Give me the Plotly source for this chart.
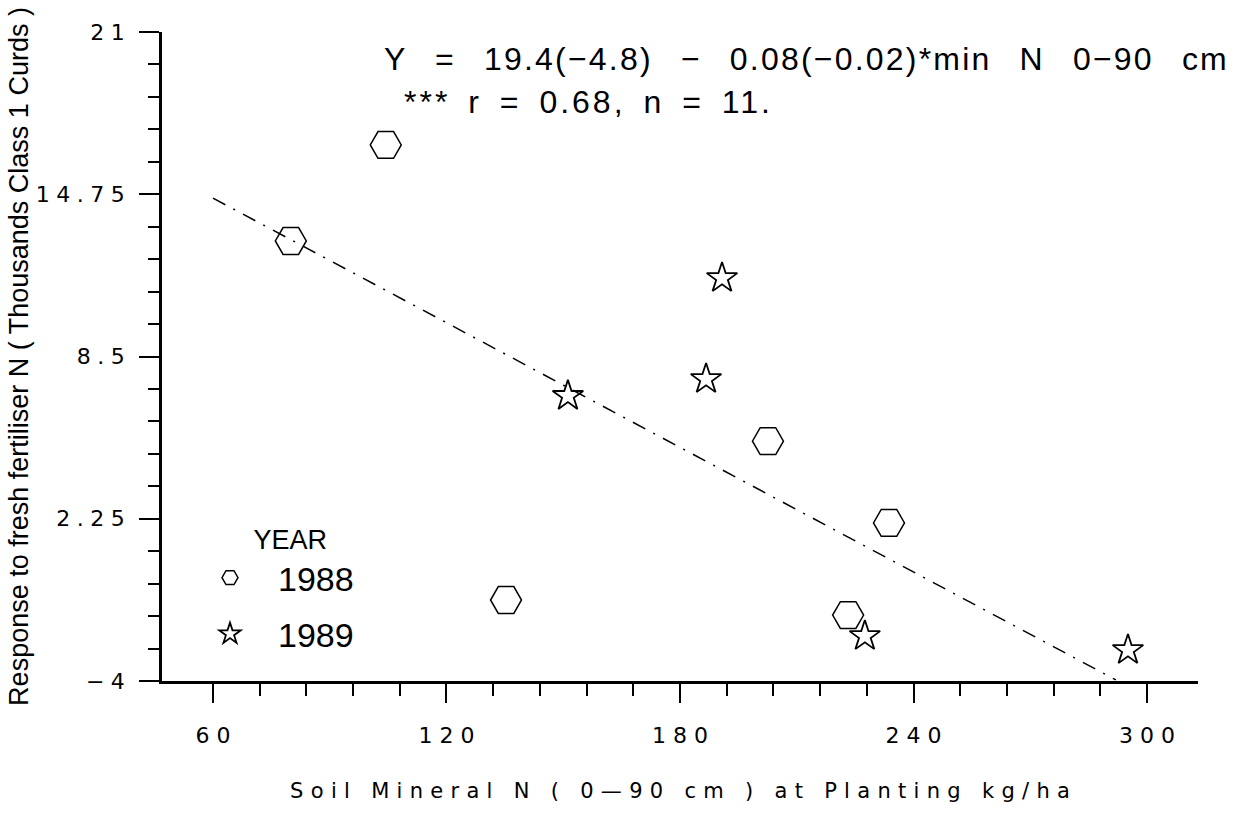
import plotly.graph_objects as go

# Soil mineral N at planting (kg/ha) and response to fresh fertiliser N
# (thousands of Class 1 curds), by year
SOIL_N_1988 = [80.0, 104.4, 135.3, 202.6, 223.2, 233.7]
RESPONSE_1988 = [12.95, 16.65, -0.88, 5.24, -1.46, 2.09]

SOIL_N_1989 = [151.2, 186.7, 190.8, 227.5, 295.1]
RESPONSE_1989 = [6.98, 7.63, 11.52, -2.27, -2.81]

# Fitted regression (standard errors in brackets)
INTERCEPT = 19.4
INTERCEPT_SE = 4.8
SLOPE = -0.08
SLOPE_SE = 0.02
R_VALUE = 0.68
N_OBS = 11
FIT_X = [60, 292]

X_TICKS = [60, 120, 180, 240, 300]
X_TICK_LABELS = ["60", "120", "180", "240", "300"]
Y_TICKS = [-4, 2.25, 8.5, 14.75, 21]
Y_TICK_LABELS = ["\u22124", "2.25", "8.5", "14.75", "21"]

X_TITLE = "Soil Mineral N ( 0\u201490 cm ) at Planting kg/ha"
Y_TITLE = "Response to fresh fertiliser N ( Thousands Class 1 Curds )"
LEGEND_TITLE = "YEAR"


def tracked(text, px):
    """Widen the glyph spacing of a label, without trailing space after the last glyph."""
    if len(text) < 2:
        return text
    return f'<span style="letter-spacing:{px}px">{text[:-1]}</span>{text[-1]}'


PLOT_FONT = "DejaVu Sans, Verdana, sans-serif"
TEXT_FONT = "Liberation Sans, Arial, Helvetica, sans-serif"

fig = go.Figure()

fit_y = [INTERCEPT + SLOPE * x for x in FIT_X]
fig.add_trace(go.Scatter(
    x=FIT_X, y=fit_y, mode="lines", showlegend=False, hoverinfo="skip",
    line=dict(color="black", width=1.5, dash="14px,9px,2px,9px"),
))

fig.add_trace(go.Scatter(
    x=SOIL_N_1988, y=RESPONSE_1988, mode="markers", name="1988", legendgroup="1988",
    marker=dict(symbol="hexagon2-open", size=31, color="black",
                line=dict(width=1.5, color="black")),
))
fig.add_trace(go.Scatter(
    x=SOIL_N_1989, y=RESPONSE_1989, mode="markers", name="1989", legendgroup="1989",
    marker=dict(symbol="star-open", size=23, color="black",
                line=dict(width=1.8, color="black")),
))

x_minor = [v for v in range(72, 300, 12) if v % 60 != 0]

# legend heading sits a little right of the key column
legend_heading = f'<span style="letter-spacing:32px">\u00a0</span>{LEGEND_TITLE}'

fig.update_layout(
    width=1235, height=815,
    margin=dict(l=162, r=37, t=32, b=134),
    paper_bgcolor="white", plot_bgcolor="white",
    font=dict(family=TEXT_FONT, color="black"),
    showlegend=True,
    xaxis=dict(
        range=[46.9, 313.1], showgrid=False, zeroline=False,
        showline=True, linecolor="black", linewidth=3,
        ticks="outside", ticklen=19, tickwidth=1.5, tickcolor="black",
        tickmode="array", tickvals=X_TICKS,
        ticktext=[tracked(t, 7) for t in X_TICK_LABELS],
        tickfont=dict(family=PLOT_FONT, size=22, color="black"),
        ticklabelstandoff=14,
        minor=dict(tickmode="array", tickvals=x_minor, ticks="outside",
                   ticklen=12, tickwidth=1.5, tickcolor="black", showgrid=False),
        title=dict(text=tracked(X_TITLE, 7.3),
                   font=dict(family=PLOT_FONT, size=21, color="black"),
                   standoff=36),
    ),
    yaxis=dict(
        range=[-4, 21], showgrid=False, zeroline=False,
        showline=True, linecolor="black", linewidth=2.5,
        ticks="outside", ticklen=20, tickwidth=1.5, tickcolor="black",
        tickmode="array", tickvals=Y_TICKS,
        ticktext=[tracked(t, 6.5) for t in Y_TICK_LABELS],
        tickfont=dict(family=PLOT_FONT, size=22, color="black"),
        ticklabelstandoff=10,
        minor=dict(dtick=1.25, tick0=-4, ticks="outside", ticklen=11,
                   tickwidth=1.5, tickcolor="black", showgrid=False),
        title=dict(text=Y_TITLE,
                   font=dict(family=TEXT_FONT, size=27, color="black"),
                   standoff=0),
    ),
    legend=dict(
        x=0.0193, y=0.2574, xanchor="left", yanchor="top",
        bgcolor="rgba(0,0,0,0)", borderwidth=0, itemwidth=86,
        tracegroupgap=9,
        font=dict(family=TEXT_FONT, size=34, color="black"),
        title=dict(text=legend_heading, side="top center",
                   font=dict(family=TEXT_FONT, size=27, color="black")),
    ),
)

eq_text = (f"Y = {INTERCEPT}(\u2212{INTERCEPT_SE}) \u2212 {abs(SLOPE)}(\u2212{SLOPE_SE})"
           f"*min N 0\u221290 cm")
stat_text = f"*** r = {R_VALUE}, n = {N_OBS}."

fig.add_annotation(
    xref="paper", yref="paper", x=0.2124, y=0.9589, xanchor="left", yanchor="middle",
    text=f'<span style="letter-spacing:2.2px;word-spacing:17px">{eq_text}</span>',
    showarrow=False, font=dict(family=TEXT_FONT, size=32, color="black"),
)
fig.add_annotation(
    xref="paper", yref="paper", x=0.2317, y=0.8914, xanchor="left", yanchor="middle",
    text=f'<span style="letter-spacing:3px;word-spacing:6px">{stat_text}</span>',
    showarrow=False, font=dict(family=TEXT_FONT, size=32, color="black"),
)

fig.write_html("out.html")
